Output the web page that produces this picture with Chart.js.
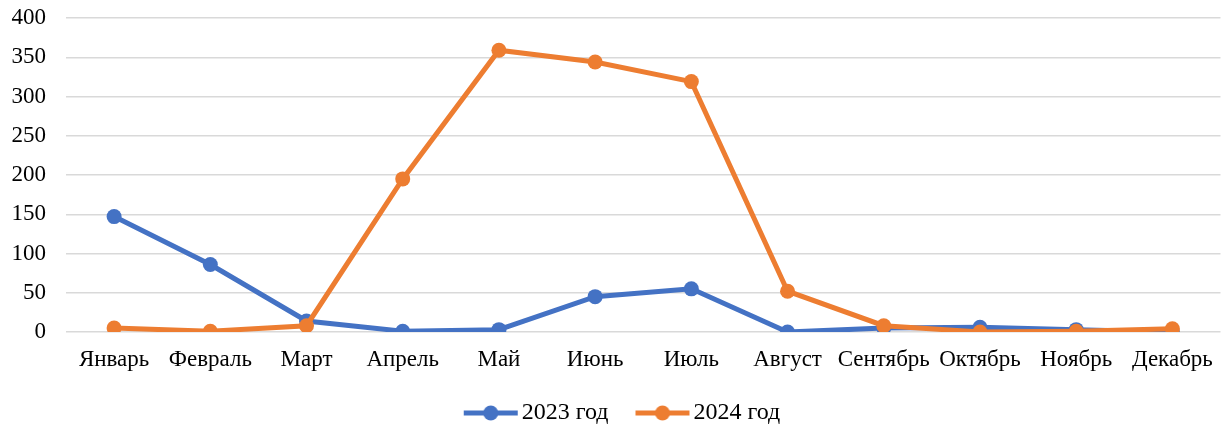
<!DOCTYPE html>
<html>
<head>
<meta charset="utf-8">
<script src="https://cdn.jsdelivr.net/npm/chart.js@4.4.1/dist/chart.umd.min.js"></script>
<style>
  html, body { margin: 0; padding: 0; background: #fff; }
  #wrap { width: 1228px; height: 428px; }
</style>
</head>
<body>
<div id="wrap"><canvas id="chart" width="1228" height="428"></canvas></div>
<script>
// Дані
const months = ["Январь", "Февраль", "Март", "Апрель", "Май", "Июнь",
                "Июль", "Август", "Сентябрь", "Октябрь", "Ноябрь", "Декабрь"];
const values2023 = [147, 86, 14, 1, 3, 45, 55, 0, 5, 6, 3, 0];
const values2024 = [5, 1, 8, 195, 359, 344, 319, 52, 8, 0, 1, 4];
const seriesNames = ["2023 год", "2024 год"];
const yTicks = { min: 0, max: 400, step: 50 };

const BLUE = "#4472C4";
const ORANGE = "#ED7D31";
const FONT = "'Liberation Serif', 'Times New Roman', serif";
const FONT_SIZE = 23;

// значок легенди: лінія з точкою
function legendIcon(color) {
    const c = document.createElement("canvas");
    c.width = 56;
    c.height = 16;
    const ctx = c.getContext("2d");
    ctx.strokeStyle = color;
    ctx.lineWidth = 5;
    ctx.beginPath();
    ctx.moveTo(1, 8);
    ctx.lineTo(55, 8);
    ctx.stroke();
    ctx.fillStyle = color;
    ctx.beginPath();
    ctx.arc(28, 8, 7.5, 0, Math.PI * 2);
    ctx.fill();
    return c;
}

const icons = [legendIcon(BLUE), legendIcon(ORANGE)];

const ctx = document.getElementById("chart").getContext("2d");

const chart = new Chart(ctx, {
    type: "line",
    data: {
        labels: months,
        datasets: [
            {
                label: seriesNames[0],
                data: values2023,
                borderColor: BLUE,
                backgroundColor: BLUE,
                borderWidth: 5,
                pointRadius: 7.5,
                pointBorderWidth: 0,
                pointBackgroundColor: BLUE,
                tension: 0,
                order: 1
            },
            {
                label: seriesNames[1],
                data: values2024,
                borderColor: ORANGE,
                backgroundColor: ORANGE,
                borderWidth: 5,
                pointRadius: 7.5,
                pointBorderWidth: 0,
                pointBackgroundColor: ORANGE,
                tension: 0,
                order: 0
            }
        ]
    },
    options: {
        responsive: false,
        animation: false,
        layout: { padding: { top: 18, right: 6, left: 0, bottom: 0 } },
        plugins: {
            tooltip: { enabled: false },
            legend: {
                position: "bottom",
                labels: {
                    usePointStyle: true,
                    pointStyleWidth: 38,
                    color: "#000",
                    font: { family: FONT, size: 24 },
                    padding: 35,
                    generateLabels(chart) {
                        return chart.data.datasets.map((ds, i) => ({
                            text: ds.label,
                            fillStyle: ds.borderColor,
                            strokeStyle: ds.borderColor,
                            lineWidth: 0,
                            pointStyle: icons[i],
                            hidden: false,
                            datasetIndex: i,
                            fontColor: "#000"
                        }));
                    }
                }
            }
        },
        scales: {
            x: {
                offset: true,
                grid: { display: false, drawTicks: false },
                border: { display: false },
                ticks: {
                    color: "#000",
                    font: { family: FONT, size: FONT_SIZE },
                    padding: 14,
                    maxRotation: 0,
                    autoSkip: false
                },
                afterFit(scale) { scale.height = 46; }
            },
            y: {
                min: yTicks.min,
                max: yTicks.max,
                grid: { color: "#d9d9d9", lineWidth: 1.5, drawTicks: false },
                border: { display: false },
                ticks: {
                    stepSize: yTicks.step,
                    color: "#000",
                    font: { family: FONT, size: FONT_SIZE },
                    padding: 20
                },
                afterFit(scale) {
                    scale.width = 66;
                    scale.paddingTop = 0;
                    scale.paddingBottom = 0;
                }
            }
        }
    }
});

// легенда: фіксована висота блоку і зсув
const legendFit = chart.legend.fit;
chart.legend.fit = function () {
    legendFit.call(this);
    this.height = 50;
};
const legendDraw = chart.legend.draw;
chart.legend.draw = function () {
    const dx = 15, dy = -12;
    this.left += dx; this.right += dx;
    this.top += dy;
    legendDraw.call(this);
    this.left -= dx; this.right -= dx;
    this.top -= dy;
};
chart.update();
</script>
</body>
</html>
